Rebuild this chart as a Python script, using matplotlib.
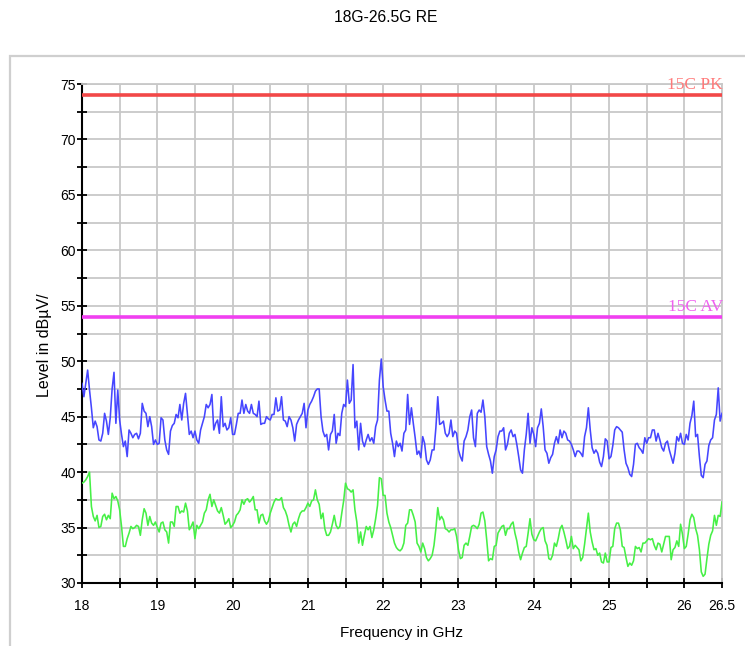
import numpy as np
import matplotlib
matplotlib.use("Agg")
import matplotlib.pyplot as plt
from matplotlib.patches import Rectangle

# ---------------- data ----------------
title = "18G-26.5G RE"
x_label = "Frequency in GHz"
y_label = "Level in dBµV/"
f_start, f_stop = 18.0, 26.5
x_ticks = [18, 19, 20, 21, 22, 23, 24, 25, 26, 26.5]
x_tick_labels = ["18", "19", "20", "21", "22", "23", "24", "25", "26", "26.5"]
y_ticks = [30, 35, 40, 45, 50, 55, 60, 65, 70, 75]

limit_names = ["15C PK", "15C AV"]
limit_levels = [74.0, 54.0]

peak_trace = [
    48.0, 46.8, 48.0, 49.2, 47.4, 45.8, 44.0, 44.6, 44.1, 42.9, 42.8, 43.5, 45.3, 44.6, 43.4, 44.9, 47.5, 49.0, 44.4, 47.4,
    44.7, 43.4, 42.3, 42.8, 41.4, 43.8, 43.5, 43.1, 43.4, 43.5, 43.0, 43.5, 46.2, 45.5, 45.3, 44.1, 45.0, 44.1, 42.5, 42.9,
    42.5, 42.6, 44.9, 44.7, 42.9, 42.0, 41.6, 43.7, 44.2, 44.4, 45.2, 44.9, 46.1, 44.7, 46.2, 47.1, 45.3, 43.4, 43.7, 43.1,
    43.7, 42.9, 42.6, 43.8, 44.4, 45.0, 46.1, 45.8, 46.1, 47.0, 43.8, 44.4, 44.7, 43.5, 46.8, 44.1, 44.4, 43.8, 44.0, 44.9,
    43.4, 43.4, 44.3, 45.3, 45.3, 46.5, 45.3, 46.1, 45.5, 45.3, 46.1, 45.3, 45.2, 45.0, 46.4, 44.3, 44.4, 44.4, 45.0, 44.8,
    44.7, 45.2, 45.2, 46.7, 45.5, 45.6, 46.8, 44.7, 44.6, 44.1, 45.0, 44.7, 44.0, 42.8, 44.3, 44.7, 45.0, 45.3, 46.2, 44.0,
    45.6, 46.1, 46.4, 46.8, 47.3, 47.5, 47.5, 45.0, 43.7, 43.2, 43.4, 42.0, 43.4, 43.7, 45.2, 42.6, 43.5, 43.3, 45.3, 46.1,
    45.9, 48.3, 46.2, 46.5, 49.7, 44.0, 44.6, 42.0, 44.4, 42.8, 42.3, 42.9, 43.4, 42.8, 43.1, 42.6, 44.1, 44.7, 48.3, 50.2,
    47.7, 46.5, 45.5, 45.5, 43.5, 42.6, 41.4, 42.8, 42.3, 42.6, 41.9, 43.5, 43.8, 47.0, 44.3, 45.8, 44.4, 43.1, 41.6, 41.9,
    41.3, 43.2, 42.6, 41.1, 40.7, 41.1, 42.0, 42.0, 44.0, 46.8, 44.3, 44.4, 44.6, 43.5, 43.2, 43.5, 44.7, 43.2, 43.7, 43.5,
    42.0, 41.4, 41.0, 42.8, 43.2, 43.8, 45.0, 45.6, 43.1, 42.3, 45.3, 45.6, 45.4, 46.5, 45.0, 42.3, 41.6, 41.0, 39.9, 41.4,
    42.0, 43.2, 43.7, 43.7, 44.0, 42.0, 42.5, 43.5, 43.8, 43.2, 43.4, 42.5, 41.4, 40.2, 39.9, 42.0, 43.4, 45.3, 42.6, 44.0,
    43.4, 42.3, 44.0, 44.4, 45.7, 44.1, 42.0, 41.7, 40.8, 41.3, 41.6, 42.6, 43.2, 42.6, 43.8, 43.1, 43.7, 43.5, 42.9, 42.8,
    42.5, 42.0, 41.4, 41.9, 41.9, 41.7, 41.4, 43.2, 44.0, 45.8, 43.8, 42.2, 41.7, 42.0, 41.7, 40.9, 40.5, 41.4, 43.0, 42.8,
    41.2, 41.4, 42.4, 43.8, 44.1, 44.0, 43.8, 43.6, 42.0, 40.8, 40.4, 39.8, 39.6, 40.7, 42.5, 42.6, 42.2, 42.0, 41.7, 43.1,
    42.6, 43.1, 43.1, 43.8, 43.8, 42.8, 43.5, 42.9, 42.2, 41.9, 42.6, 42.8, 42.0, 41.4, 40.8, 41.7, 43.2, 42.8, 43.5, 42.6,
    42.5, 43.4, 42.9, 44.4, 45.1, 46.4, 43.2, 43.4, 41.4, 39.7, 39.5, 40.7, 41.0, 42.4, 42.9, 43.1, 44.7, 45.2, 47.6, 44.6,
    45.3,
]

avg_trace = [
    39.0, 39.1, 39.3, 39.6, 40.0, 36.9, 36.0, 35.6, 36.1, 35.0, 35.1, 36.0, 36.2, 35.7, 36.1, 35.8, 38.1, 37.6, 37.8, 37.4,
    36.6, 35.1, 33.3, 33.3, 34.0, 34.5, 35.1, 34.9, 35.0, 35.2, 35.1, 34.3, 35.7, 36.7, 36.3, 35.2, 36.0, 35.4, 35.2, 35.5,
    35.0, 34.6, 35.4, 35.5, 34.8, 34.6, 33.6, 35.5, 35.5, 35.1, 36.9, 36.9, 36.3, 36.5, 36.4, 37.2, 36.5, 34.8, 35.1, 35.5,
    34.0, 35.2, 34.9, 35.2, 35.5, 36.3, 36.6, 37.5, 38.0, 36.9, 37.5, 37.0, 36.5, 36.3, 36.8, 36.1, 35.3, 35.5, 35.8, 35.0,
    35.2, 35.5, 36.1, 36.3, 36.6, 37.5, 37.1, 37.5, 37.6, 37.3, 37.5, 37.8, 36.6, 36.6, 35.4, 36.1, 36.2, 35.6, 35.3, 35.6,
    36.3, 36.8, 37.3, 37.6, 37.5, 37.5, 37.7, 36.8, 36.5, 36.0, 35.2, 34.6, 35.3, 35.5, 35.1, 35.8, 36.3, 36.5, 36.5, 36.8,
    37.2, 36.9, 37.4, 37.5, 38.4, 37.5, 37.1, 35.8, 36.3, 34.9, 34.3, 34.3, 34.6, 35.3, 36.1, 35.2, 34.9, 35.1, 36.3, 37.4,
    39.0, 38.5, 38.4, 38.2, 38.4, 36.6, 35.5, 33.6, 34.6, 33.4, 34.3, 35.1, 34.8, 35.1, 34.1, 34.8, 35.8, 37.0, 39.5, 39.4,
    37.9, 37.9, 36.3, 35.5, 35.0, 34.3, 33.6, 33.2, 33.0, 32.9, 33.1, 33.6, 35.2, 35.4, 36.6, 36.6, 36.1, 35.5, 33.6, 33.3,
    32.8, 33.6, 33.1, 32.3, 32.0, 32.2, 32.5, 33.4, 34.9, 36.8, 35.7, 36.0, 35.7, 34.9, 34.8, 34.6, 34.8, 34.8, 34.9, 34.2,
    33.0, 32.2, 32.3, 33.4, 33.6, 33.4, 34.2, 35.1, 35.2, 35.1, 34.9, 35.3, 36.3, 36.4, 35.6, 33.9, 32.0, 32.2, 32.1, 33.3,
    33.4, 34.5, 34.8, 35.1, 35.2, 34.3, 34.9, 34.9, 35.3, 35.5, 34.5, 33.8, 32.8, 32.1, 32.7, 33.2, 33.3, 34.5, 35.8, 34.4,
    33.9, 33.8, 34.2, 34.6, 34.9, 35.0, 33.8, 33.4, 32.2, 32.1, 32.5, 33.6, 33.3, 34.0, 34.9, 35.2, 34.6, 33.9, 33.1, 33.3,
    34.2, 33.1, 33.4, 33.2, 33.0, 32.0, 32.3, 33.5, 34.9, 36.3, 34.6, 33.7, 33.0, 33.1, 32.5, 32.7, 31.9, 31.8, 32.7, 31.9,
    31.9, 33.2, 33.3, 34.9, 35.4, 35.4, 34.8, 33.3, 33.2, 32.3, 31.5, 31.8, 31.6, 32.0, 33.3, 33.1, 33.2, 32.8, 33.6, 33.6,
    33.8, 34.0, 33.9, 34.0, 33.4, 33.0, 33.6, 33.5, 32.8, 33.5, 34.2, 34.2, 34.2, 32.1, 33.0, 33.2, 33.8, 33.3, 35.3, 34.4,
    33.1, 33.3, 34.4, 35.7, 36.2, 35.9, 34.9, 34.3, 33.0, 31.0, 30.6, 30.8, 32.2, 33.5, 34.3, 34.7, 36.1, 35.2, 36.1, 36.0,
    37.3,
]

freq = np.linspace(f_start, f_stop, len(peak_trace))

# ---------------- figure ----------------
W, H = 745, 646
fig = plt.figure(figsize=(W / 100, H / 100), dpi=100)
plt.rcParams['font.family'] = ['Liberation Sans', 'DejaVu Sans']

# outer light frame
fig.add_artist(Rectangle((10 / W, -0.1), 1.2, (H - 56) / H + 0.1,
                         transform=fig.transFigure, fill=False,
                         edgecolor='#cfcfcf', lw=1.6))

ax = fig.add_axes([82 / W, 1 - 583 / H, 640 / W, 499 / H])
ax.set_xlim(f_start, f_stop)
ax.set_ylim(30, 75)

grid_c = '#c8c8c8'
ax.set_xticks(x_ticks)
ax.set_xticklabels(x_tick_labels)
ax.set_xticks(np.arange(18.5, 26.0, 1.0), minor=True)
ax.set_yticks(y_ticks)
ax.set_yticks(np.arange(32.5, 75, 5.0), minor=True)
ax.grid(True, which='both', color=grid_c, lw=1.3)
ax.set_axisbelow(True)

for s in ['top', 'right']:
    ax.spines[s].set_color(grid_c)
    ax.spines[s].set_linewidth(1.3)
for s in ['left', 'bottom']:
    ax.spines[s].set_color('black')
    ax.spines[s].set_linewidth(1.5)

ax.tick_params(which='both', direction='inout', length=7, width=1.3,
               color='black', labelsize=10)
ax.tick_params(axis='y', which='both', pad=1, right=False)
ax.tick_params(axis='x', which='both', pad=8, top=False)

# limit lines
limit_colors = ['#f24848', '#f040f0']
label_colors = ['#ff7a7a', '#f060f0']
for name, lvl, c, lc in zip(limit_names, limit_levels, limit_colors, label_colors):
    ax.axhline(lvl, color=c, lw=2.6, zorder=3)
    ax.text(f_stop + 0.01, lvl + 0.2, name, ha='right', va='bottom',
            color=lc, fontsize=12.5, family=['Liberation Serif'], zorder=4)

ax.plot(freq, peak_trace, color='#4646ff', lw=1.15, zorder=5)
ax.plot(freq, avg_trace, color='#46f046', lw=1.15, zorder=5)

fig.text(386 / W, 1 - 18 / H, title, ha='center', va='center', fontsize=11.3)
fig.text(402 / W, 1 - 633 / H, x_label, ha='center', va='center', fontsize=11)
fig.text(45 / W, 1 - 345 / H, y_label, ha='center', va='center',
         rotation=90, fontsize=11.5)

fig.savefig("out.png", dpi=100)
